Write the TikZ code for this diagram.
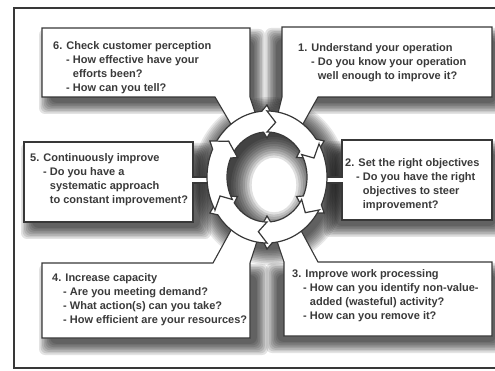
\documentclass[tikz,border=0pt]{standalone}
\usepackage{fontspec}
\setmainfont{Liberation Sans}
\definecolor{ink}{HTML}{383838}
\definecolor{txt}{HTML}{3A3A3A}
% soft shadow made of stacked translucent rectangles
\newcommand\softrect[4]{%
  \foreach \k in {0,...,7}{%
    \fill[black,opacity=0.11,rounded corners=6pt]
      ({#1-7+1.6*\k},{#2-7+1.6*\k}) rectangle ({#3+7-1.6*\k},{#4+7-1.6*\k});}}
% point on the middle of the ring band at a given angle
\newcommand\rmid[1]{({267+50*cos(#1)},{177-55.5*sin(#1)})}
\begin{document}
\begin{tikzpicture}[x=1pt,y=-1pt,
  frameline/.style={draw=ink, line width=1.3pt},
  panel/.style={fill=white, draw=ink, line width=1.1pt, line join=miter},
  ringseg/.style={fill=white, draw=ink, line width=1.2pt, line join=miter},
  boxtext/.style={anchor=north west, inner sep=0pt, align=left, text=txt,
                  font=\fontsize{11}{14}\selectfont\bfseries}]
\useasboundingbox (0,0) rectangle (495,371);
\fill[white] (0,0) rectangle (495,371);

% outer frame (open on the right)
\draw[frameline] (495,8) -- (14,8) -- (14,368) -- (495,368);

% shadows of the panels
\softrect{46}{36}{258}{107}
\softrect{272}{35}{500}{107}
\softrect{28}{150}{204}{232}
\softrect{331}{148}{500}{230}
\softrect{46}{271}{261}{348}
\softrect{273}{270}{500}{346}

% halo round the ring
\foreach \k in {0,...,9}{%
  \fill[black,opacity=0.09] (270,181) ellipse [x radius={78-1.7*\k}, y radius={84-1.7*\k}];}

% panels with their pointers
\filldraw[panel] (42,28) -- (250,28) -- (250,97) -- \rmid{100} -- \rmid{128} -- (215,97) -- (42,97) -- cycle;
\filldraw[panel] (282,27) -- (492,27) -- (492,97) -- (318,97) -- \rmid{52} -- \rmid{80} -- (282,97) -- cycle;
\filldraw[panel] (24,142) -- (193,142) -- (193,177) -- (214,177) -- (214,183) -- (193,183) -- (193,222) -- (24,222) -- cycle;
\filldraw[panel] (342,140) -- (492,140) -- (492,220) -- (342,220) -- (342,183) -- (320,183) -- (320,177) -- (342,177) -- cycle;
\filldraw[panel] (42,263) -- (213,263) -- \rmid{232} -- \rmid{262} -- (250,263) -- (250,338) -- (42,338) -- cycle;
\filldraw[panel] (284,262) -- \rmid{278} -- \rmid{306} -- (318,262) -- (492,262) -- (492,336) -- (284,336) -- cycle;

% hole of the ring with the shadow cast into it
\begin{scope}
  \clip (267,177) ellipse [x radius=40, y radius=45];
  \fill[white] (200,100) rectangle (340,260);
  \foreach \k in {0,...,9}{%
    \fill[black,opacity=0.12,even odd rule] (200,100) rectangle (340,260)
      (274,185) ellipse [x radius={43-2.3*\k}, y radius={48-2.3*\k}];}
\end{scope}

% six curved arrows running clockwise
\foreach \T in {150,90,30,-30,-90,-150}{%
  \pgfmathsetmacro\H{\T-60}%
  \pgfmathsetmacro\Hp{\H+5}%
  \filldraw[ringseg]
    ({267+60*cos(\T)},{177-66*sin(\T)})
    -- ({267+50*cos(\T-10)},{177-55.5*sin(\T-10)})
    -- ({267+40*cos(\T)},{177-45*sin(\T)})
    -- plot[domain=0:1,samples=20] ({267+40*cos(\T+(\Hp-\T)*\x)},{177-45*sin(\T+(\Hp-\T)*\x)})
    -- ({267+34*cos(\H)},{177-39*sin(\H)})
    -- ({267+50*cos(\H-10)},{177-55.5*sin(\H-10)})
    -- ({267+66*cos(\H)},{177-72*sin(\H)})
    -- plot[domain=0:1,samples=20] ({267+60*cos(\Hp+(\T-\Hp)*\x)},{177-66*sin(\Hp+(\T-\Hp)*\x)})
    -- cycle;}

% panel texts
\node[boxtext] (t6) at (53,41) {6. Check customer perception\\
  \hspace*{13pt}- How effective have your\\
  \hspace*{13pt}\phantom{- }efforts been?\\
  \hspace*{13pt}- How can you tell?};
\node[boxtext] (t1) at (298,43) {1. Understand your operation\\
  \hspace*{13pt}- Do you know your operation\\
  \hspace*{13pt}\phantom{- }well enough to improve it?};
\node[boxtext] (t5) at (30,153) {5. Continuously improve\\
  \hspace*{13pt}- Do you have a\\
  \hspace*{13pt}\phantom{- }systematic approach\\
  \hspace*{13pt}\phantom{- }to constant improvement?};
\node[boxtext] (t2) at (345,158) {2. Set the right objectives\\
  \hspace*{11pt}- Do you have the right\\
  \hspace*{11pt}\phantom{- }objectives to steer\\
  \hspace*{11pt}\phantom{- }improvement?};
\node[boxtext] (t4) at (52,273) {4. Increase capacity\\
  \hspace*{11pt}- Are you meeting demand?\\
  \hspace*{11pt}- What action(s) can you take?\\
  \hspace*{11pt}- How efficient are your resources?};
\node[boxtext] (t3) at (292,269) {3. Improve work processing\\
  \hspace*{11pt}- How can you identify non-value-\\
  \hspace*{11pt}\phantom{- }added (wasteful) activity?\\
  \hspace*{11pt}- How can you remove it?};
\end{tikzpicture}
\end{document}
